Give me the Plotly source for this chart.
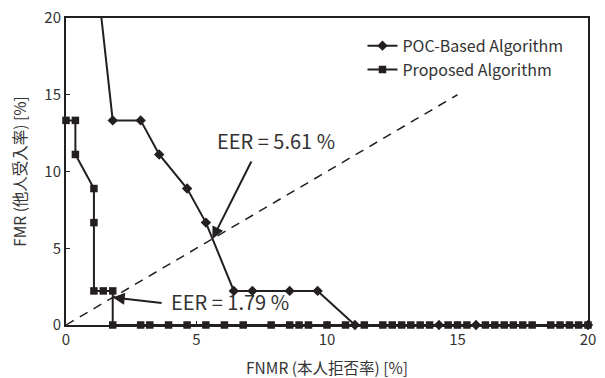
import plotly.graph_objects as go

# FNMR / FMR values (%)
poc_fnmr = [1.07, 1.79, 2.86, 3.57, 4.64, 5.36, 6.43, 7.14, 8.57, 9.64, 11.07, 14.29, 15.71, 20.0]
poc_fmr = [24.44, 13.33, 13.33, 11.11, 8.89, 6.67, 2.22, 2.22, 2.22, 2.22, 0, 0, 0, 0]

prop_fnmr = [0, 0.36, 0.36, 1.07, 1.07, 1.07, 1.43, 1.79, 1.79,
             2.86, 3.21, 3.93, 4.64, 5.36, 6.07, 6.79, 7.86, 8.57, 8.93, 9.29,
             10.0, 10.71, 11.43, 12.14, 12.5, 12.86, 13.21, 13.57, 13.93, 14.64,
             15.0, 15.36, 16.07, 16.43, 16.79, 17.14, 17.5, 17.86, 18.57, 18.93,
             19.29, 19.64, 20.0]
prop_fmr = [13.33, 13.33, 11.11, 8.89, 6.67, 2.22, 2.22, 2.22, 0] + [0] * 34

diag_x = [0, 15]
diag_y = [0, 15]

eer_poc = 5.61
eer_prop = 1.79

x_ticks = [0, 5, 10, 15, 20]
y_ticks = [0, 5, 10, 15, 20]

INK = "#231f20"
TXT = "#333333"
FONT = "Noto Sans CJK JP"

fig = go.Figure()

fig.add_trace(go.Scatter(
    x=diag_x, y=diag_y, mode="lines", showlegend=False,
    line=dict(color=INK, width=1.5, dash="9px,7px"), hoverinfo="skip"))

fig.add_trace(go.Scatter(
    x=poc_fnmr, y=poc_fmr, mode="lines+markers", name="POC-Based Algorithm",
    line=dict(color=INK, width=2), cliponaxis=False,
    marker=dict(symbol="diamond", size=8, color=INK)))

fig.add_trace(go.Scatter(
    x=prop_fnmr, y=prop_fmr, mode="lines+markers", name="Proposed Algorithm",
    line=dict(color=INK, width=2), cliponaxis=False,
    marker=dict(symbol="square", size=7.5, color=INK)))

fig.add_annotation(x=eer_poc, y=eer_poc, ax=7.13, ay=10.75, axref="x", ayref="y",
                   text="", showarrow=True, arrowhead=2, arrowsize=1.2,
                   arrowwidth=2, arrowcolor=INK)
fig.add_annotation(x=5.7, y=12.05, xref="x", yref="y", xanchor="left",
                   text=f"EER = {eer_poc} %", showarrow=False,
                   font=dict(size=20, color=TXT, family=FONT))

fig.add_annotation(x=eer_prop, y=eer_prop, ax=3.72, ay=1.43, axref="x", ayref="y",
                   text="", showarrow=True, arrowhead=2, arrowsize=1.2,
                   arrowwidth=2, arrowcolor=INK)
fig.add_annotation(x=3.95, y=1.5, xref="x", yref="y", xanchor="left",
                   text=f"EER = {eer_prop} %", showarrow=False,
                   font=dict(size=20, color=TXT, family=FONT))

fig.update_layout(
    width=605, height=378,
    margin=dict(l=66, r=17, t=18, b=53),
    paper_bgcolor="white", plot_bgcolor="white",
    font=dict(family=FONT, size=15, color=TXT),
    legend=dict(x=0.568, y=0.965, xanchor="left", yanchor="top",
                bgcolor="rgba(0,0,0,0)", font=dict(size=16, color=TXT),
                itemwidth=30, tracegroupgap=0),
    xaxis=dict(range=[0, 20], tickvals=x_ticks, ticks="inside", ticklen=4,
               tickcolor=INK, showline=True, linecolor=INK, linewidth=2,
               mirror=True, showgrid=False, zeroline=False, automargin=False,
               tickfont=dict(size=15),
               title=dict(text="FNMR (本人拒否率) [%]", standoff=16,
                          font=dict(size=15.5))),
    yaxis=dict(range=[0, 20], tickvals=y_ticks, ticks="inside", ticklen=4,
               tickcolor=INK, showline=True, linecolor=INK, linewidth=2,
               mirror=True, showgrid=False, zeroline=False, automargin=False,
               tickfont=dict(size=15),
               title=dict(text="FMR (他人受入率) [%]", standoff=14,
                          font=dict(size=15.5))),
)

fig.write_html("out.html", config={"displayModeBar": False},
               post_script="document.body.style.margin='0';")
